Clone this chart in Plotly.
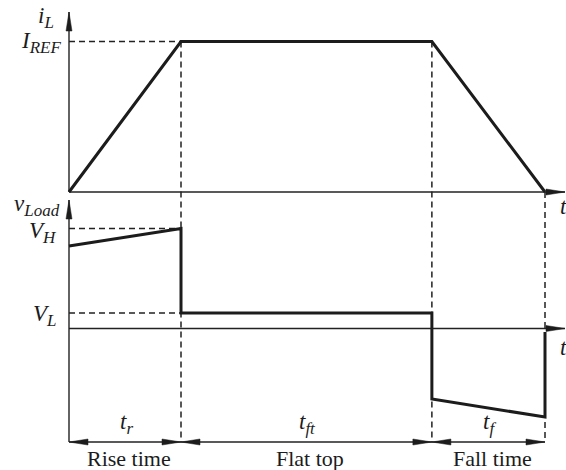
import plotly.graph_objects as go

# ---------------- data ----------------
# phase boundaries (time units, t_r = 1)
t_bounds = [0.0, 1.0, 3.24, 4.25]          # start, end of rise, end of flat top, end of fall
i_vals = [0.0, 1.0, 1.0, 0.0]               # inductor current, I_REF = 1
I_REF = 1.0
v_t = [0.0, 1.0, 1.0, 3.24, 3.24, 4.25, 4.25]
v_vals = [0.825, 1.0, 0.155, 0.155, -0.705, -0.885, -0.035]
V_H = 1.0
V_L = 0.155
phase_main = ["t", "t", "t"]
phase_sub = ["r", "ft", "f"]
phase_names = ["Rise time", "Flat top", "Fall time"]

# ---------------- geometry ----------------
W, H = 566, 470
x0_px, x_scale = 69.0, 112.0          # pixel of t=0, px per time unit
yi0_px, yi_scale = 192.0, 150.5       # top panel (current)
yv0_px, yv_scale = 328.5, 100.0       # bottom panel (voltage)

xr = [-x0_px / x_scale, (W - x0_px) / x_scale]
yr_i = [(yi0_px - H) / yi_scale, yi0_px / yi_scale]
yr_v = [(yv0_px - H) / yv_scale, yv0_px / yv_scale]

def px_x(px):
    return (px - x0_px) / x_scale

def px_yi(py):
    return (yi0_px - py) / yi_scale

def px_yv(py):
    return (yv0_px - py) / yv_scale

INK = "#1c1c1c"
AX = "#222222"
FONT = "Liberation Serif"
MATH = 23
SUB = 17

fig = go.Figure()
fig.add_trace(go.Scatter(x=t_bounds, y=i_vals, mode="lines",
                         line=dict(color=INK, width=3), yaxis="y", hoverinfo="skip"))
fig.add_trace(go.Scatter(x=v_t, y=v_vals, mode="lines",
                         line=dict(color=INK, width=3), yaxis="y2", hoverinfo="skip"))

shapes = []
def line(xa, ya, xb, yb, yref, dash=None, width=1.4, color=AX):
    d = dict(type="line", x0=xa, y0=ya, x1=xb, y1=yb, xref="x", yref=yref,
             line=dict(color=color, width=width), layer="below")
    if dash:
        d["line"]["dash"] = dash
    shapes.append(d)

ARL, ARW = 19, 3.0
def arrowhead(x, y, yref, direction):
    if direction == "right":
        p = f"M0,0 L{-ARL},{ARW} L{-ARL},{-ARW} Z"
    elif direction == "left":
        p = f"M0,0 L{ARL},{ARW} L{ARL},{-ARW} Z"
    else:  # up
        p = f"M0,0 L{ARW},{-ARL} L{-ARW},{-ARL} Z"
    shapes.append(dict(type="path", path=p, xref="x", yref=yref,
                       xsizemode="pixel", ysizemode="pixel",
                       xanchor=x, yanchor=y, fillcolor=INK,
                       line=dict(color=INK, width=0.5)))

DASH = "6px,4px"
t_end_axis = px_x(565)

# top panel axes
line(0, 0, t_end_axis, 0, "y")
arrowhead(t_end_axis, 0, "y", "right")
y_top_i = px_yi(12)
line(0, 0, 0, y_top_i, "y")
arrowhead(0, y_top_i, "y", "up")

# bottom panel axes
dim_v = px_yv(442)
y_top_v = px_yv(200)
line(0, 0, t_end_axis, 0, "y2")
arrowhead(t_end_axis, 0, "y2", "right")
line(0, dim_v, 0, y_top_v, "y2")
arrowhead(0, y_top_v, "y2", "up")

# dashed reference lines
line(0, I_REF, t_bounds[1], I_REF, "y", dash=DASH, width=1.5)
line(0, V_H, t_bounds[1], V_H, "y2", dash=DASH, width=1.5)
line(0, V_L, t_bounds[1], V_L, "y2", dash=DASH, width=1.5)
for tb, top_i in [(t_bounds[1], I_REF), (t_bounds[2], I_REF), (t_bounds[3], 0.0)]:
    top_px = yi0_px - top_i * yi_scale
    line(tb, px_yv(top_px), tb, dim_v, "y2", dash=DASH, width=1.5)

# dimension line with arrows
line(t_bounds[0], dim_v, t_bounds[3], dim_v, "y2", width=1.3)
for k in range(3):
    arrowhead(t_bounds[k], dim_v, "y2", "left")
    arrowhead(t_bounds[k + 1], dim_v, "y2", "right")

annotations = []
def text(s, x_px, y_px, size=20, xanchor="center"):
    annotations.append(dict(text=s, x=x_px / W, y=1 - y_px / H, xref="paper", yref="paper",
                            xanchor=xanchor, yanchor="middle", showarrow=False,
                            font=dict(family=FONT, size=size, color=INK)))

def math(main, sub=None):
    s = f"<i>{main}</i>"
    if sub:
        s += f"<sub><span style='font-size:{SUB}px'><i>{sub}</i></span></sub>"
    return s

text(math("i", "L"), 46, 18, MATH)
text(math("I", "REF"), 63, 43, MATH, xanchor="right")
text(math("v", "Load"), 62, 205, MATH, xanchor="right")
text(math("V", "H"), 59, 232, MATH, xanchor="right")
text(math("V", "L"), 59, 315, MATH, xanchor="right")
text(math("t"), 563, 206, MATH)
text(math("t"), 563, 347, MATH)

centers_px = [x0_px + (t_bounds[k] + t_bounds[k + 1]) / 2 * x_scale for k in range(3)]
for k in range(3):
    text(math(phase_main[k], phase_sub[k]), centers_px[k] + 1, 423, MATH)
    text(phase_names[k], centers_px[k] + 4, 458, 22)

fig.update_layout(
    width=W, height=H, margin=dict(l=0, r=0, t=0, b=0),
    paper_bgcolor="white", plot_bgcolor="white", showlegend=False,
    xaxis=dict(range=xr, visible=False, fixedrange=True),
    yaxis=dict(range=yr_i, visible=False, domain=[0, 1]),
    yaxis2=dict(range=yr_v, visible=False, overlaying="y", domain=[0, 1]),
    shapes=shapes, annotations=annotations,
)
fig.write_html("out.html", config={"displayModeBar": False},
               post_script="document.body.style.margin='0';document.body.style.overflow='hidden';")
